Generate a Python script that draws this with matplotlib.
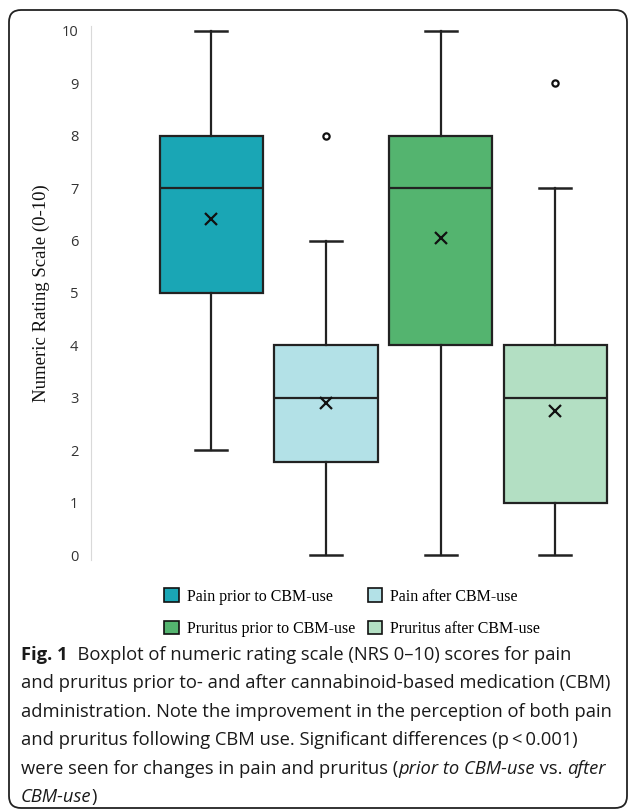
import matplotlib
matplotlib.use("Agg")
import matplotlib.pyplot as plt
from matplotlib.patches import Patch, FancyBboxPatch
from matplotlib.transforms import IdentityTransform

# NRS summary statistics
groups = ["Pain prior to CBM-use", "Pain after CBM-use",
          "Pruritus prior to CBM-use", "Pruritus after CBM-use"]
whislo = [2, 0, 0, 0]
q1 = [5, 1.78, 4, 1]
med = [7, 3, 7, 3]
q3 = [8, 4, 8, 4]
whishi = [10, 6, 10, 7]
means = [6.42, 2.9, 6.04, 2.74]
fliers = [[], [8], [], [9]]
colors = ["#1aa6b5", "#b3e1e7", "#54b46f", "#b3dfc3"]

W, H = 629, 810
fig = plt.figure(figsize=(W / 100, H / 100), dpi=100)

# rounded frame around chart + caption
frame = FancyBboxPatch((9, 2), 618, 798, boxstyle="round,pad=0,rounding_size=12",
                       transform=IdentityTransform(), facecolor="none",
                       edgecolor="#222222", linewidth=1.3)
fig.patches.append(frame)

ax = fig.add_axes([91 / W, 1 - 563 / H, 524 / W, 540 / H])

stats = []
for i in range(len(groups)):
    stats.append(dict(label=groups[i], whislo=whislo[i], q1=q1[i], med=med[i],
                      q3=q3[i], whishi=whishi[i], mean=means[i], fliers=fliers[i]))

edge = "#222222"
bp = ax.bxp(stats, positions=[1, 2, 3, 4], widths=0.9, capwidths=0.28,
            patch_artist=True, showmeans=True,
            boxprops=dict(edgecolor=edge, linewidth=1.6),
            medianprops=dict(color=edge, linewidth=1.6),
            whiskerprops=dict(color=edge, linewidth=1.6),
            capprops=dict(color=edge, linewidth=1.8),
            meanprops=dict(marker="x", markeredgecolor="#111111", markersize=9,
                           markeredgewidth=1.6),
            flierprops=dict(marker="o", markerfacecolor="white",
                            markeredgecolor="#111111", markersize=4.5,
                            markeredgewidth=1.6))
for box, c in zip(bp["boxes"], colors):
    box.set_facecolor(c)

ax.set_xlim(-0.05, 4.52)
ax.set_ylim(-0.15, 10.15)
ax.set_yticks(range(0, 11))
ax.set_xticks([])
for s in ["top", "right", "bottom"]:
    ax.spines[s].set_visible(False)
ax.spines["left"].set_color("#d9d9d9")
ax.spines["left"].set_bounds(-0.1, 10.1)
ax.tick_params(axis="y", length=0, pad=9, labelsize=10.5, labelcolor="#333333")
for lab in ax.get_yticklabels():
    lab.set_fontfamily("Open Sans")
ax.set_ylabel("Numeric Rating Scale (0-10)", fontfamily="Liberation Serif",
              fontsize=13.5, color="#111111")
ax.yaxis.set_label_coords(-0.078, 0.5)

# legend fills column-wise, so order so rows read pain / pruritus
order = [0, 2, 1, 3]
handles = [Patch(facecolor=colors[i], edgecolor="#111111", linewidth=1.2) for i in order]
fig.legend(handles, [groups[i] for i in order], ncol=2, loc="upper left",
           bbox_to_anchor=(158 / W, 1 - 582 / H), frameon=False,
           prop=dict(family="Liberation Serif", size=11.5),
           handlelength=0.9, handleheight=0.9, handletextpad=0.5,
           columnspacing=0.8, labelspacing=1.0, borderaxespad=0)

# caption, drawn segment by segment so bold/italic can mix
cap_lines = [
    [("Fig. 1", "bold"), ("  Boxplot of numeric rating scale (NRS 0\u201310) scores for pain", "normal")],
    [("and pruritus prior to- and after cannabinoid-based medication (CBM)", "normal")],
    [("administration. Note the improvement in the perception of both pain", "normal")],
    [("and pruritus following CBM use. Significant differences (p\u2009<\u20090.001)", "normal")],
    [("were seen for changes in pain and pruritus (", "normal"), ("prior to CBM-use", "italic"),
     (" vs. ", "normal"), ("after", "italic")],
    [("CBM-use", "italic"), (")", "normal")],
]
renderer = fig.canvas.get_renderer()
y0 = 655
for k, segs in enumerate(cap_lines):
    x = 21
    y = H - (y0 + k * 28.4)
    for txt, style in segs:
        t = fig.text(x / W, y / H, txt, fontfamily="Open Sans", fontsize=13.2,
                     fontweight="bold" if style == "bold" else "normal",
                     fontstyle="italic" if style == "italic" else "normal",
                     va="center", ha="left", color="#1a1a1a")
        bb = t.get_window_extent(renderer=renderer)
        x += bb.width

fig.savefig("out.png", dpi=100)
